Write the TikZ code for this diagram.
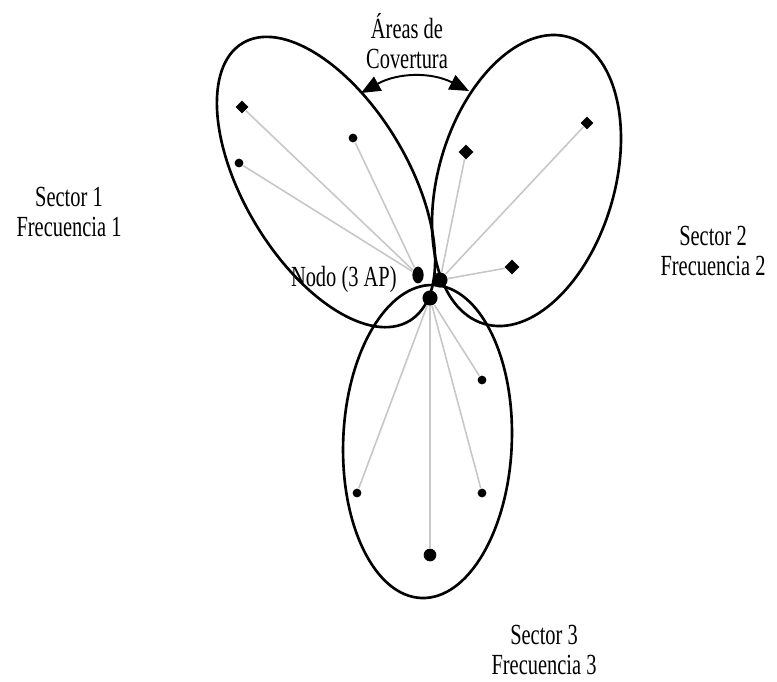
\documentclass[tikz,border=0pt]{standalone}
\usepackage{fontspec}
\setmainfont[FakeStretch=0.70]{Liberation Serif}
\usetikzlibrary{arrows.meta,shapes.geometric}

\begin{document}
\begin{tikzpicture}[
  x=0.01cm, y=-0.01cm,
  zone/.style={draw,line width=0.75pt},
  sta/.style={circle,fill,inner sep=0pt,minimum size=2.5pt},
  bsta/.style={diamond,fill,inner sep=0pt,minimum size=4.4pt},
  ap/.style={circle,fill,inner sep=0pt,minimum size=4.3pt},
  link/.style={draw=black!22,line width=0.45pt},
  lbl/.style={align=center,font=\fontsize{8.3}{8.6}\selectfont},
  covarrow/.style={line width=0.55pt,{Triangle[length=5.5pt,width=4.5pt]}-{Triangle[length=5.5pt,width=4.5pt]}}
]
  \useasboundingbox (0,0) rectangle (777,681);
  % coverage areas
  \draw[zone,rotate around={-59:(326,182)}] (326,182) ellipse (162 and 82);
  \draw[zone,rotate around={73.5:(526.5,180.5)}] (526.5,180.5) ellipse (149.5 and 88);
  \draw[zone,rotate around={87.7:(427.5,441.5)}] (427.5,441.5) ellipse (156.6 and 84.3);
  % access points
  \node[ap,ellipse,minimum width=3.2pt,minimum height=4.8pt] (ap1) at (418,275) {};
  \node[ap] (ap2) at (440,280) {};
  \node[ap] (ap3) at (430,298) {};
  % stations
  \node[bsta,minimum size=3.8pt] (s1a) at (242,107) {};
  \node[sta] (s1b) at (353,138) {};
  \node[sta] (s1c) at (239,163) {};
  \node[bsta,minimum size=3.8pt] (s2a) at (587,123) {};
  \node[bsta] (s2b) at (466,152) {};
  \node[bsta] (s2c) at (512,267) {};
  \node[sta] (s3a) at (482,380) {};
  \node[sta] (s3b) at (357,493) {};
  \node[sta] (s3c) at (482,493) {};
  \node[ap,minimum size=3.6pt] (s3d) at (430,555) {};
  % links
  \draw[link] (s1a) -- (ap1);
  \draw[link] (s1b) -- (ap1);
  \draw[link] (s1c) -- (ap1);
  \draw[link] (s2a) -- (ap2);
  \draw[link] (s2b) -- (ap2);
  \draw[link] (s2c) -- (ap2);
  \draw[link] (ap3) -- (s3a);
  \draw[link] (ap3) -- (s3b);
  \draw[link] (ap3) -- (s3c);
  \draw[link] (ap3) -- (s3d);
  % labels
  \node[lbl] (cov) at (407,41) {Áreas de\\Covertura};
  \node[lbl] (sec1) at (69,212) {Sector 1\\Frecuencia 1};
  \node[lbl] (sec2) at (713,251) {Sector 2\\Frecuencia 2};
  \node[lbl] (sec3) at (544,650) {Sector 3\\Frecuencia 3};
  \node[lbl,anchor=east] (nodo) at (409,279) {Nodo (3 AP)};
  \coordinate (cl) at (361,93);
  \coordinate (cr) at (469,91);
  \draw[covarrow] (cl) to[bend left=28] (cr);
\end{tikzpicture}
\end{document}
